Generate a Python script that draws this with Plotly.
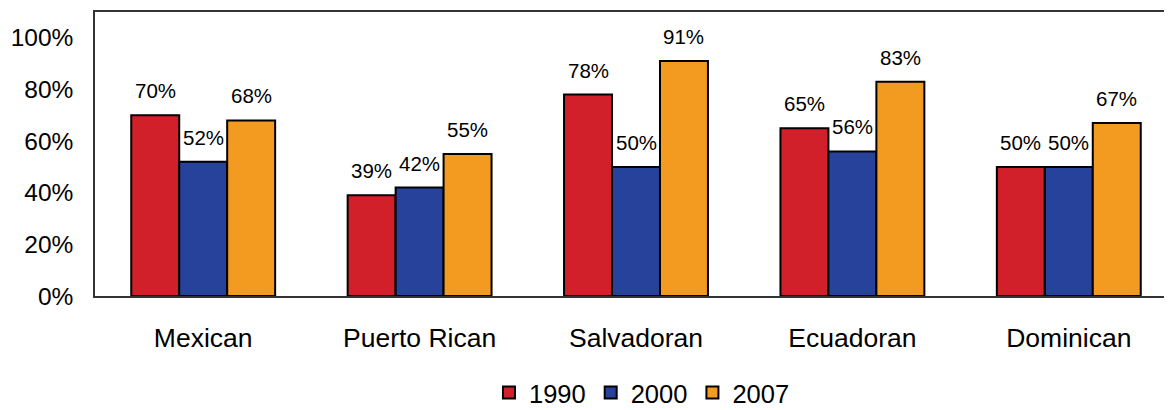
import plotly.graph_objects as go

categories = ["Mexican", "Puerto Rican", "Salvadoran", "Ecuadoran", "Dominican"]
years = ["1990", "2000", "2007"]
v1990 = [70, 39, 78, 65, 50]
v2000 = [52, 42, 50, 56, 50]
v2007 = [68, 55, 91, 83, 67]
colors = ["#D2202A", "#27429A", "#F39A20"]

BARGAP = 0.335
W, H = 1172, 410
ML, MR, MT, MB = 87, 2.5, 4, 122
CAT_PX = (W - ML - MR) / len(categories)

fig = go.Figure()
for name, vals, col in zip(years, [v1990, v2000, v2007], colors):
    fig.add_trace(go.Bar(
        x=categories, y=vals, name=name,
        marker=dict(color=col, line=dict(color="#000000", width=2)),
        cliponaxis=False,
    ))

# value labels above each bar
bar_px = CAT_PX * (1 - BARGAP) / 3
for i, vals in enumerate([v1990, v2000, v2007]):
    for cat, v in zip(categories, vals):
        fig.add_annotation(x=cat, y=v, text=f"{v}%", showarrow=False,
                           xshift=(i - 1) * bar_px, yanchor="bottom", yshift=11,
                           font=dict(size=20.5, color="#000000"))

fig.update_layout(
    width=W, height=H,
    margin=dict(l=ML, r=MR, t=MT, b=MB),
    paper_bgcolor="white", plot_bgcolor="white",
    font=dict(family="Liberation Sans, Arial, sans-serif", color="#000000"),
    barmode="group", bargap=BARGAP, bargroupgap=0,
    showlegend=True,
    legend=dict(orientation="h", x=0.5055, xanchor="center",
                yref="container", y=1 - 385 / H, yanchor="middle",
                font=dict(size=25.5), itemwidth=30, traceorder="normal"),
    xaxis=dict(range=[-0.5, 4.5], showline=True, linecolor="#333333", linewidth=2,
               mirror=True, ticks="", tickfont=dict(size=26.5), ticklabelstandoff=17,
               showgrid=False, automargin=False),
    yaxis=dict(range=[0, 110], tickvals=[0, 20, 40, 60, 80, 100],
               ticktext=["0%", "20%", "40%", "60%", "80%", "100%"],
               showline=True, linecolor="#333333", linewidth=1.5, ticks="",
               tickfont=dict(size=24.5), showgrid=False, zeroline=False,
               ticklabelstandoff=15, automargin=False),
)
fig.write_html("out.html")
